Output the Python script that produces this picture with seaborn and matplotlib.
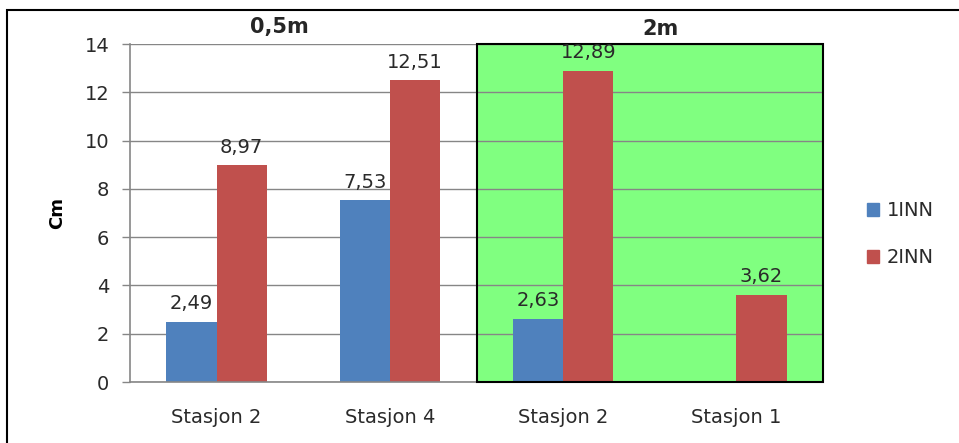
import matplotlib
matplotlib.use("Agg")
import matplotlib.pyplot as plt
import matplotlib.patches as mpatches
import seaborn as sns
import pandas as pd
import numpy as np

categories = ["Stasjon 2", "Stasjon 4", "Stasjon 2", "Stasjon 1"]
inn1 = [2.49, 7.53, 2.63, np.nan]
inn2 = [8.97, 12.51, 12.89, 3.62]
series = ["1INN", "2INN"]
groups = ["0,5m", "2m"]
yticks = [0, 2, 4, 6, 8, 10, 12, 14]

keys = [f"c{i}" for i in range(len(categories))]
df = pd.DataFrame({
    "key": keys * 2,
    "value": inn1 + inn2,
    "serie": [series[0]] * 4 + [series[1]] * 4,
})

sns.set_style("white")
plt.rcParams["font.family"] = ["DejaVu Sans"]

fig = plt.figure(figsize=(9.59, 4.43), dpi=100)
ax = fig.add_axes([130 / 959, 1 - 382 / 443, (823 - 130) / 959, (382 - 44) / 443])

blue = "#4F81BD"
red = "#C0504D"
txt = "#2a2a2a"
sns.barplot(data=df, x="key", y="value", hue="serie", order=keys,
            hue_order=series, palette=[blue, red], width=0.58,
            saturation=1, ax=ax, zorder=2, legend=True, linewidth=0)

ax.set_xlim(-0.5, 3.5)
ax.set_ylim(0, 14)
ax.set_yticks(yticks)
ax.set_yticklabels([str(t) for t in yticks], fontsize=14, color=txt)
ax.set_xticks(range(len(categories)))
ax.set_xticklabels(categories, fontsize=14, color=txt)
ax.set_xticks([-0.5, 0.5, 1.5, 2.5, 3.5], minor=True)
ax.tick_params(axis="x", which="major", length=0, pad=19)
ax.tick_params(axis="x", which="minor", length=6, color="#868686", width=1)
ax.tick_params(axis="y", which="major", length=6, color="#868686", width=1, left=True, pad=9)

ax.set_axisbelow(True)
ax.yaxis.grid(True, color="#868686", linewidth=1.0)
ax.xaxis.grid(False)
for s in ["top", "right"]:
    ax.spines[s].set_visible(False)
ax.spines["left"].set_color("#868686")
ax.spines["bottom"].set_color("#868686")
ax.spines["left"].set_linewidth(1.2)
ax.spines["bottom"].set_linewidth(1.2)

# green highlighted region
ax.axvspan(1.5, 3.5, facecolor="#80FF80", edgecolor="none", zorder=0.1)
ax.add_patch(mpatches.Rectangle((1.5, 0), 2.0, 14, fill=False, edgecolor="black",
                                linewidth=1.5, zorder=3, clip_on=False))

ax.set_xlabel("")
ax.set_ylabel("Cm", fontsize=13, fontweight="bold", labelpad=13, color="black")

for cont in ax.containers:
    for bar in cont:
        h = bar.get_height()
        if np.isnan(h):
            continue
        ax.text(bar.get_x() + bar.get_width() / 2, h + 0.35,
                f"{h:.2f}".replace(".", ","), ha="center", va="bottom",
                fontsize=14, color=txt, zorder=4)

# group labels
fig.text(279 / 959, 1 - 27 / 443, groups[0], ha="center", va="center",
         fontsize=15, fontweight="bold")
fig.text(660 / 959, 1 - 29 / 443, groups[1], ha="center", va="center",
         fontsize=15, fontweight="bold")

# legend
handles = [mpatches.Patch(color=blue), mpatches.Patch(color=red)]
ax.legend_.remove()
fig.legend(handles, series, loc="center left", bbox_to_anchor=(849 / 959, 1 - 234 / 443),
           frameon=False, fontsize=14, labelspacing=1.45, handlelength=0.65,
           handleheight=0.65, handletextpad=0.4, labelcolor=txt)

# outer frame (partially cropped chart border)
fig.patches.append(mpatches.Rectangle((7 / 959, -0.2), 1.2, 1.2 - 10 / 443, fill=False,
                                      edgecolor="black", linewidth=1.5,
                                      transform=fig.transFigure, figure=fig))

fig.savefig("out.png", dpi=100)
